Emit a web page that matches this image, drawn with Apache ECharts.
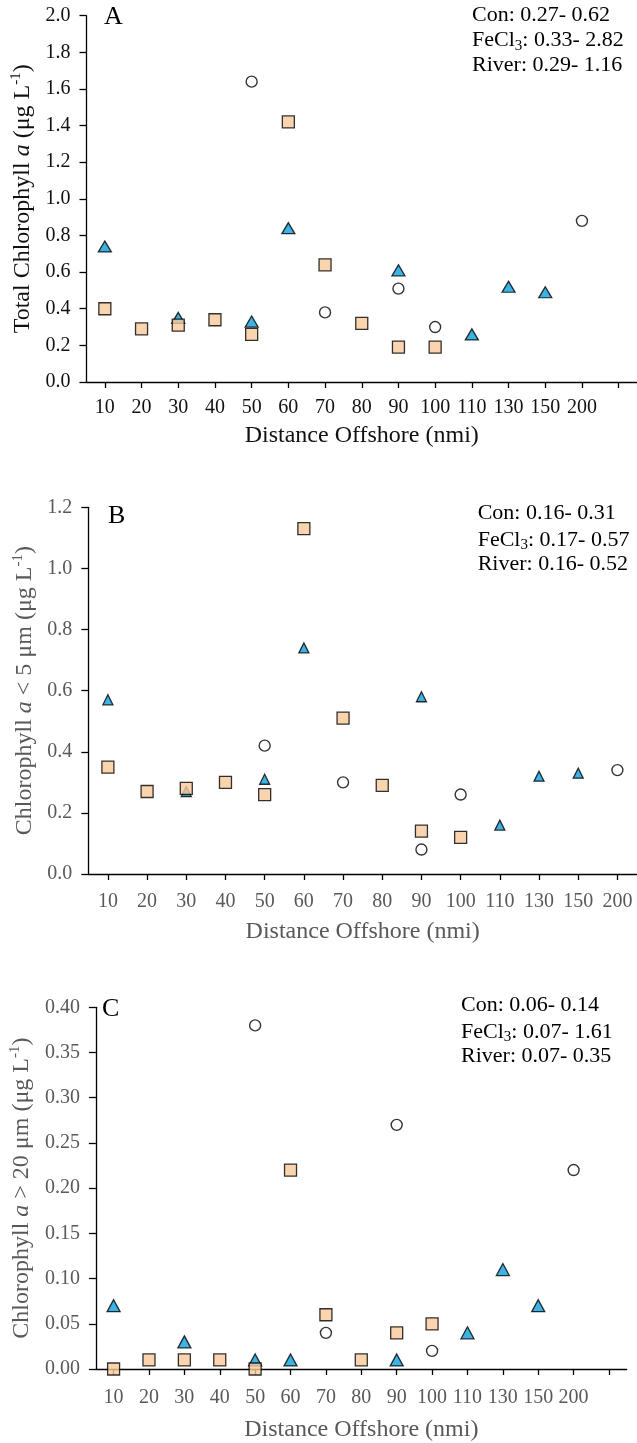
<!DOCTYPE html>
<html>
<head>
<meta charset="utf-8">
<script src="https://cdn.jsdelivr.net/npm/echarts@6/dist/echarts.min.js"></script>
<style>
html,body{margin:0;padding:0;background:#fff;}
#chart{width:637px;height:1443px;}
</style>
</head>
<body>
<div id="chart"></div>
<script>
// ---------- DATA ----------
const categories = ['10','20','30','40','50','60','70','80','90','100','110','130','150','200'];

// Panel A: Total chlorophyll a (µg/L)
const aCircle   = [null,null,null,null,1.64,null,0.38,null,0.51,0.30,null,null,null,0.88];
const aSquare   = [0.40,0.29,0.31,0.34,0.26,1.42,0.64,0.32,0.19,0.19,null,null,null,null];
const aTriangle = [0.74,null,0.35,null,0.33,0.84,null,null,0.61,null,0.26,0.52,0.49,null];

// Panel B: Chlorophyll a < 5 µm
const bCircle   = [null,null,null,null,0.42,null,0.30,null,0.08,0.26,null,null,null,0.34];
const bSquare   = [0.35,0.27,0.28,0.30,0.26,1.13,0.51,0.29,0.14,0.12,null,null,null,null];
const bTriangle = [0.57,null,0.27,null,0.31,0.74,null,null,0.58,null,0.16,0.32,0.33,null];

// Panel C: Chlorophyll a > 20 µm
const cCircle   = [null,null,null,null,0.38,null,0.04,null,0.27,0.02,null,null,null,0.22];
const cSquare   = [0.00,0.01,0.01,0.01,0.00,0.22,0.06,0.01,0.04,0.05,null,null,null,null];
const cTriangle = [0.07,null,0.03,null,0.01,0.01,null,null,0.01,null,0.04,0.11,0.07,null];

// Range annotations
const rangesA = [['Con', '', ': 0.27- 0.62'], ['FeCl', '3', ': 0.33- 2.82'], ['River', '', ': 0.29- 1.16']];
const rangesB = [['Con', '', ': 0.16- 0.31'], ['FeCl', '3', ': 0.17- 0.57'], ['River', '', ': 0.16- 0.52']];
const rangesC = [['Con', '', ': 0.06- 0.14'], ['FeCl', '3', ': 0.07- 1.61'], ['River', '', ': 0.07- 0.35']];

// ---------- STYLE ----------
const FONT = '"Liberation Serif", "Times New Roman", serif';
const GRAY = '#595959';
const BLACK = '#111111';
const SQ_FILL = '#F9C99B';
const TRI_FILL = '#0E9FDB';

function pts(arr){ const out=[]; arr.forEach((v,i)=>{ if(v!==null) out.push([i,v]); }); return out; }

const panels = [
  {grid:{left:86.5, top:15.7, width:553, height:366.3}, extra:true, min:0, max:2.0, interval:0.2, dec:1,
   color:BLACK, name:'{n|Total Chlorophyll }{i|a}{n| (μg L}{s|-1}{n|)}', nameGap:47, lblMargin:16, xGap:42,
   circle:aCircle, square:aSquare, tri:aTriangle, triSize:[13,11], sqSize:12, ciSize:11},
  {grid:{left:88.3, top:507.3, width:550, height:366.7}, extra:false, min:0, max:1.2, interval:0.2, dec:1,
   color:GRAY, name:'{n|Chlorophyll }{i|a}{n| < 5 μm (μg L}{s|-1}{n|)}', nameGap:47, lblMargin:18, xGap:46,
   circle:bCircle, square:bSquare, tri:bTriangle, triSize:[10,10], sqSize:12, ciSize:11},
  {grid:{left:86.7, top:1007.3, width:540, height:365.7}, extra:true, min:0, max:0.40, interval:0.05, dec:2,
   color:GRAY, name:'{n|Chlorophyll }{i|a}{n| > 20 μm (μg L}{s|-1}{n|)}', nameGap:57, lblMargin:19, xGap:49,
   circle:cCircle, square:cSquare, tri:cTriangle, triSize:[13,12], sqSize:12, ciSize:11}
];

const grids=[], xAxes=[], yAxes=[], series=[];
panels.forEach((p,k)=>{
  grids.push(p.grid);
  xAxes.push({
    type:'category', gridIndex:k,
    data: p.extra ? categories.concat(['']) : categories.slice(),
    boundaryGap:true,
    axisLine:{show:true, lineStyle:{color:'#000', width:1.3}},
    axisTick:{show:true, alignWithLabel:true, interval:0, length:6, lineStyle:{color:'#000', width:1.3}},
    axisLabel:{interval:0, margin:p.lblMargin, fontFamily:FONT, fontSize:20, color:p.color},
    splitLine:{show:false},
    name:'Distance Offshore (nmi)', nameLocation:'middle', nameGap:p.xGap,
    nameTextStyle:{fontFamily:FONT, fontSize:24, color:p.color}
  });
  const richBase = {fontFamily:FONT, fontSize:24, color:p.color, lineHeight:28};
  yAxes.push({
    type:'value', gridIndex:k, min:p.min, max:p.max, interval:p.interval,
    axisLine:{show:true, lineStyle:{color:'#000', width:1.3}},
    axisTick:{show:true, length:7, lineStyle:{color:'#000', width:1.3}},
    axisLabel:{margin:16, fontFamily:FONT, fontSize:20, color:p.color,
      formatter:(v)=>Number(v).toFixed(p.dec)},
    splitLine:{show:false},
    name:p.name, nameLocation:'middle', nameGap:p.nameGap, nameRotate:90,
    nameTextStyle:{fontFamily:FONT, fontSize:24, color:p.color,
      rich:{
        n:Object.assign({}, richBase),
        i:Object.assign({}, richBase, {fontStyle:'italic'}),
        s:{fontFamily:FONT, fontSize:15, color:p.color, lineHeight:12, verticalAlign:'top'}
      }}
  });
  series.push({type:'scatter', xAxisIndex:k, yAxisIndex:k, data:pts(p.circle), symbol:'circle', symbolSize:p.ciSize,
    itemStyle:{color:'#ffffff', borderColor:'#000', borderWidth:1.4}, z:3});
  series.push({type:'scatter', xAxisIndex:k, yAxisIndex:k, data:pts(p.tri), symbol:'triangle', symbolSize:p.triSize,
    itemStyle:{color:TRI_FILL, borderColor:'#000', borderWidth:1.3}, z:4});
  series.push({type:'scatter', xAxisIndex:k, yAxisIndex:k, data:pts(p.square), symbol:'rect', symbolSize:p.sqSize,
    itemStyle:{color:SQ_FILL, borderColor:'#000', borderWidth:1.3}, z:5});
});

// Annotation graphics
const graphics = [];
function panelLetter(txt, x, y){
  graphics.push({type:'text', x:x, y:y, style:{text:txt, x:0, y:0, fill:'#000', font:'26px '+FONT, verticalAlign:'middle', align:'left'}, z:100});
}
function rangeLines(list, x, ys){
  list.forEach((r,i)=>{
    graphics.push({type:'text', x:x, y:ys[i], z:100, style:{
      text: r[1] ? '{a|'+r[0]+'}{b|'+r[1]+'}{a|'+r[2]+'}' : '{a|'+r[0]+r[2]+'}',
      x:0, y:0, verticalAlign:'middle', align:'left', fill:'#000', font:'22px '+FONT,
      rich:{
        a:{fontFamily:FONT, fontSize:22, fill:'#000', lineHeight:25},
        b:{fontFamily:FONT, fontSize:15, fill:'#000', lineHeight:12, verticalAlign:'bottom'}
      }}});
  });
}
panelLetter('A', 104, 17.5);
panelLetter('B', 108, 516.5);
panelLetter('C', 102, 1009);
rangeLines(rangesA, 472, [15.7, 40.7, 65.7]);
rangeLines(rangesB, 477.7, [513.7, 540.3, 564.7]);
rangeLines(rangesC, 461, [1005.7, 1032.3, 1056.3]);

const chart = echarts.init(document.getElementById('chart'), null, {renderer:'canvas'});
chart.setOption({
  animation:false,
  backgroundColor:'#ffffff',
  grid:grids, xAxis:xAxes, yAxis:yAxes, series:series,
  graphic:graphics
});
</script>
</body>
</html>
